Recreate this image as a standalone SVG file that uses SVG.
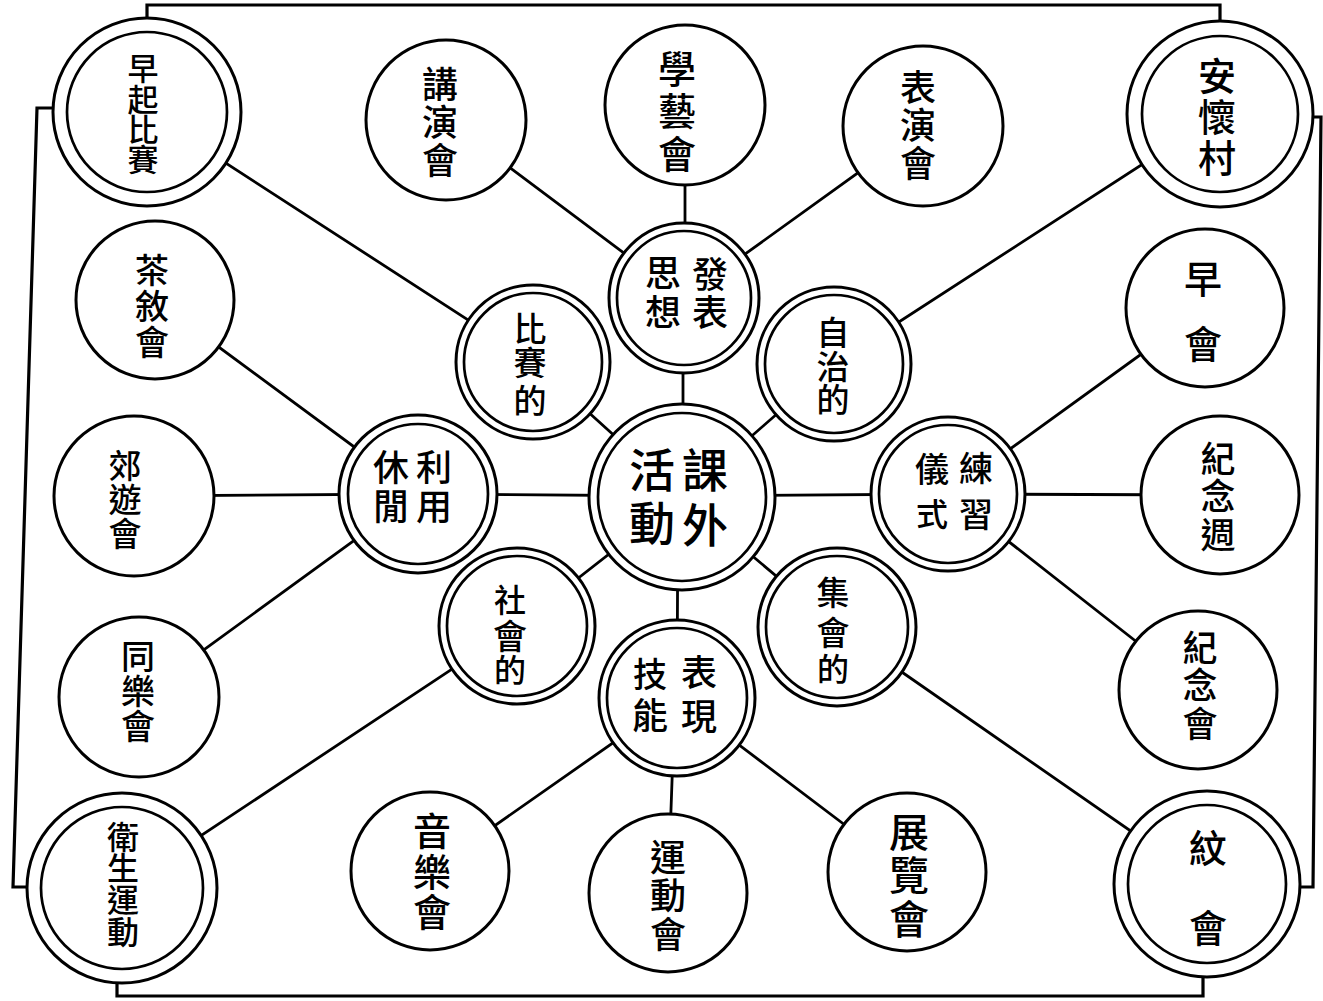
<svg xmlns="http://www.w3.org/2000/svg" width="1323" height="1001" viewBox="0 0 1323 1001">
<style>
.bg{fill:#fff}
.ln{stroke:#000;stroke-width:2.8;fill:none;stroke-linecap:round}
.fr{stroke:#000;stroke-width:3.2;fill:none;stroke-linejoin:miter}
.ring{fill:#fff;stroke:#000;stroke-width:3}
.inner{fill:none;stroke:#000;stroke-width:2.7}
.t{font-family:"Noto Sans CJK TC","Noto Sans CJK JP","Noto Sans CJK SC",sans-serif;text-anchor:middle;dominant-baseline:central;fill:#000;font-weight:500}
</style>
<rect class="bg" x="0" y="0" width="1323" height="1001"/>
<g id="frame">
<path class="fr" d="M147,18 V5 H1220 V22"/>
<path class="fr" d="M55,108 H37 L13,887 H30"/>
<path class="fr" d="M117,980 V996 H1203 V975"/>
<path class="fr" d="M1311,117 H1321 L1313,887 H1298"/>
</g>
<g id="connectors">
<line class="ln" x1="683" y1="497" x2="683" y2="298"/>
<line class="ln" x1="682" y1="497" x2="533" y2="362"/>
<line class="ln" x1="682" y1="497" x2="834" y2="364"/>
<line class="ln" x1="682" y1="496" x2="418" y2="494"/>
<line class="ln" x1="682" y1="496" x2="948" y2="494"/>
<line class="ln" x1="682" y1="497" x2="517" y2="626"/>
<line class="ln" x1="678" y1="497" x2="677" y2="698"/>
<line class="ln" x1="682" y1="497" x2="837" y2="627"/>
<line class="ln" x1="684" y1="298" x2="446" y2="120"/>
<line class="ln" x1="685" y1="298" x2="685" y2="105"/>
<line class="ln" x1="684" y1="298" x2="923" y2="126"/>
<line class="ln" x1="533" y1="362" x2="147" y2="112"/>
<line class="ln" x1="834" y1="364" x2="1220" y2="114"/>
<line class="ln" x1="418" y1="494" x2="155" y2="300"/>
<line class="ln" x1="418" y1="494" x2="134" y2="496"/>
<line class="ln" x1="418" y1="494" x2="139" y2="697"/>
<line class="ln" x1="948" y1="494" x2="1205" y2="308"/>
<line class="ln" x1="948" y1="494" x2="1220" y2="495"/>
<line class="ln" x1="948" y1="494" x2="1198" y2="690"/>
<line class="ln" x1="517" y1="626" x2="122" y2="888"/>
<line class="ln" x1="677" y1="698" x2="430" y2="871"/>
<line class="ln" x1="675" y1="698" x2="668" y2="893"/>
<line class="ln" x1="677" y1="698" x2="907" y2="872"/>
<line class="ln" x1="837" y1="627" x2="1207" y2="884"/>
</g>
<g id="hub">
<circle class="ring" cx="682" cy="497" r="93"/>
<circle class="inner" cx="682" cy="497" r="84"/>
<text class="t" font-size="46" x="705" y="467">課</text>
<text class="t" font-size="46" x="705" y="522">外</text>
<text class="t" font-size="46" x="652" y="467">活</text>
<text class="t" font-size="46" x="652" y="520">動</text>
</g>
<g id="n-fabiao">
<circle class="ring" cx="684" cy="298" r="75"/>
<circle class="inner" cx="684" cy="298" r="67"/>
<text class="t" font-size="36" x="710" y="272">發</text>
<text class="t" font-size="36" x="710" y="310">表</text>
<text class="t" font-size="36" x="663" y="271">思</text>
<text class="t" font-size="36" x="663" y="310">想</text>
</g>
<g id="n-bisai">
<circle class="ring" cx="533" cy="362" r="77"/>
<circle class="inner" cx="533" cy="362" r="69"/>
<text class="t" font-size="33" x="530" y="327">比</text>
<text class="t" font-size="33" x="530" y="361">賽</text>
<text class="t" font-size="33" x="530" y="399">的</text>
</g>
<g id="n-zizhi">
<circle class="ring" cx="834" cy="364" r="77"/>
<circle class="inner" cx="834" cy="364" r="69"/>
<text class="t" font-size="33" x="833" y="331">自</text>
<text class="t" font-size="33" x="833" y="365">治</text>
<text class="t" font-size="33" x="833" y="398">的</text>
</g>
<g id="n-xiuxian">
<circle class="ring" cx="418" cy="494" r="79"/>
<circle class="inner" cx="418" cy="494" r="70"/>
<text class="t" font-size="36" x="434" y="465">利</text>
<text class="t" font-size="36" x="434" y="504">用</text>
<text class="t" font-size="36" x="391" y="465">休</text>
<text class="t" font-size="36" x="391" y="504">閒</text>
</g>
<g id="n-yishi">
<circle class="ring" cx="948" cy="494" r="77"/>
<circle class="inner" cx="948" cy="494" r="69"/>
<text class="t" font-size="34" x="976" y="466">練</text>
<text class="t" font-size="34" x="976" y="512">習</text>
<text class="t" font-size="34" x="932" y="467">儀</text>
<text class="t" font-size="32" x="932" y="512">式</text>
</g>
<g id="n-shehui">
<circle class="ring" cx="517" cy="626" r="78"/>
<circle class="inner" cx="517" cy="626" r="70"/>
<text class="t" font-size="32" x="510" y="598">社</text>
<text class="t" font-size="34" x="510" y="634">會</text>
<text class="t" font-size="32" x="510" y="668">的</text>
</g>
<g id="n-jineng">
<circle class="ring" cx="677" cy="698" r="78"/>
<circle class="inner" cx="677" cy="698" r="70"/>
<text class="t" font-size="36" x="699" y="670">表</text>
<text class="t" font-size="36" x="699" y="714">現</text>
<text class="t" font-size="34" x="650" y="672">技</text>
<text class="t" font-size="36" x="650" y="713">能</text>
</g>
<g id="n-jihui">
<circle class="ring" cx="837" cy="627" r="79"/>
<circle class="inner" cx="837" cy="627" r="71"/>
<text class="t" font-size="33" x="833" y="591">集</text>
<text class="t" font-size="33" x="833" y="631">會</text>
<text class="t" font-size="32" x="833" y="667">的</text>
</g>
<g id="n-zaoqi">
<circle class="ring" cx="147" cy="112" r="94"/>
<circle class="inner" cx="147" cy="112" r="80"/>
<text class="t" font-size="31" x="143" y="66">早</text>
<text class="t" font-size="31" x="143" y="97">起</text>
<text class="t" font-size="31" x="143" y="127">比</text>
<text class="t" font-size="31" x="143" y="157">賽</text>
</g>
<g id="n-anhuai">
<circle class="ring" cx="1220" cy="114" r="93"/>
<circle class="inner" cx="1220" cy="114" r="78"/>
<text class="t" font-size="38" x="1217" y="73">安</text>
<text class="t" font-size="38" x="1217" y="114">懷</text>
<text class="t" font-size="38" x="1217" y="155">村</text>
</g>
<g id="n-weisheng">
<circle class="ring" cx="122" cy="888" r="95"/>
<circle class="inner" cx="122" cy="888" r="81"/>
<text class="t" font-size="32" x="123" y="835">衛</text>
<text class="t" font-size="32" x="123" y="866">生</text>
<text class="t" font-size="32" x="123" y="898">運</text>
<text class="t" font-size="32" x="123" y="930">動</text>
</g>
<g id="n-wenhui">
<circle class="ring" cx="1207" cy="884" r="93"/>
<circle class="inner" cx="1207" cy="884" r="79"/>
<text class="t" font-size="38" x="1208" y="845">紋</text>
<text class="t" font-size="38" x="1208" y="925">會</text>
</g>
<g id="n-jiangyan">
<circle class="ring" cx="446" cy="120" r="80"/>
<text class="t" font-size="36" x="440" y="82">講</text>
<text class="t" font-size="36" x="440" y="120">演</text>
<text class="t" font-size="36" x="440" y="158">會</text>
</g>
<g id="n-xueyi">
<circle class="ring" cx="685" cy="105" r="80"/>
<text class="t" font-size="38" x="677" y="66">學</text>
<text class="t" font-size="38" x="677" y="108">藝</text>
<text class="t" font-size="38" x="677" y="151">會</text>
</g>
<g id="n-biaoyan">
<circle class="ring" cx="923" cy="126" r="80"/>
<text class="t" font-size="36" x="918" y="85">表</text>
<text class="t" font-size="36" x="918" y="123">演</text>
<text class="t" font-size="36" x="918" y="161">會</text>
</g>
<g id="n-chaxu">
<circle class="ring" cx="155" cy="300" r="79"/>
<text class="t" font-size="34" x="152" y="268">茶</text>
<text class="t" font-size="34" x="152" y="304">敘</text>
<text class="t" font-size="34" x="152" y="340">會</text>
</g>
<g id="n-jiaoyou">
<circle class="ring" cx="134" cy="496" r="80"/>
<text class="t" font-size="33" x="125" y="464">郊</text>
<text class="t" font-size="33" x="125" y="498">遊</text>
<text class="t" font-size="33" x="125" y="532">會</text>
</g>
<g id="n-tongle">
<circle class="ring" cx="139" cy="697" r="80"/>
<text class="t" font-size="34" x="138" y="654">同</text>
<text class="t" font-size="34" x="138" y="689">樂</text>
<text class="t" font-size="34" x="138" y="724">會</text>
</g>
<g id="n-zaohui">
<circle class="ring" cx="1205" cy="308" r="79"/>
<text class="t" font-size="38" x="1203" y="276">早</text>
<text class="t" font-size="38" x="1203" y="341">會</text>
</g>
<g id="n-jinianzhou">
<circle class="ring" cx="1220" cy="495" r="79"/>
<text class="t" font-size="35" x="1218" y="456">紀</text>
<text class="t" font-size="35" x="1218" y="493">念</text>
<text class="t" font-size="35" x="1218" y="532">週</text>
</g>
<g id="n-jinianhui">
<circle class="ring" cx="1198" cy="690" r="79"/>
<text class="t" font-size="35" x="1200" y="645">紀</text>
<text class="t" font-size="35" x="1200" y="682">念</text>
<text class="t" font-size="35" x="1200" y="721">會</text>
</g>
<g id="n-yinyue">
<circle class="ring" cx="430" cy="871" r="79"/>
<text class="t" font-size="38" x="432" y="828">音</text>
<text class="t" font-size="38" x="432" y="869">樂</text>
<text class="t" font-size="38" x="432" y="909">會</text>
</g>
<g id="n-yundong">
<circle class="ring" cx="668" cy="893" r="79"/>
<text class="t" font-size="36" x="668" y="855">運</text>
<text class="t" font-size="36" x="668" y="893">動</text>
<text class="t" font-size="36" x="668" y="932">會</text>
</g>
<g id="n-zhanlan">
<circle class="ring" cx="907" cy="872" r="79"/>
<text class="t" font-size="40" x="909" y="830">展</text>
<text class="t" font-size="40" x="909" y="873">覽</text>
<text class="t" font-size="40" x="909" y="917">會</text>
</g>
</svg>
